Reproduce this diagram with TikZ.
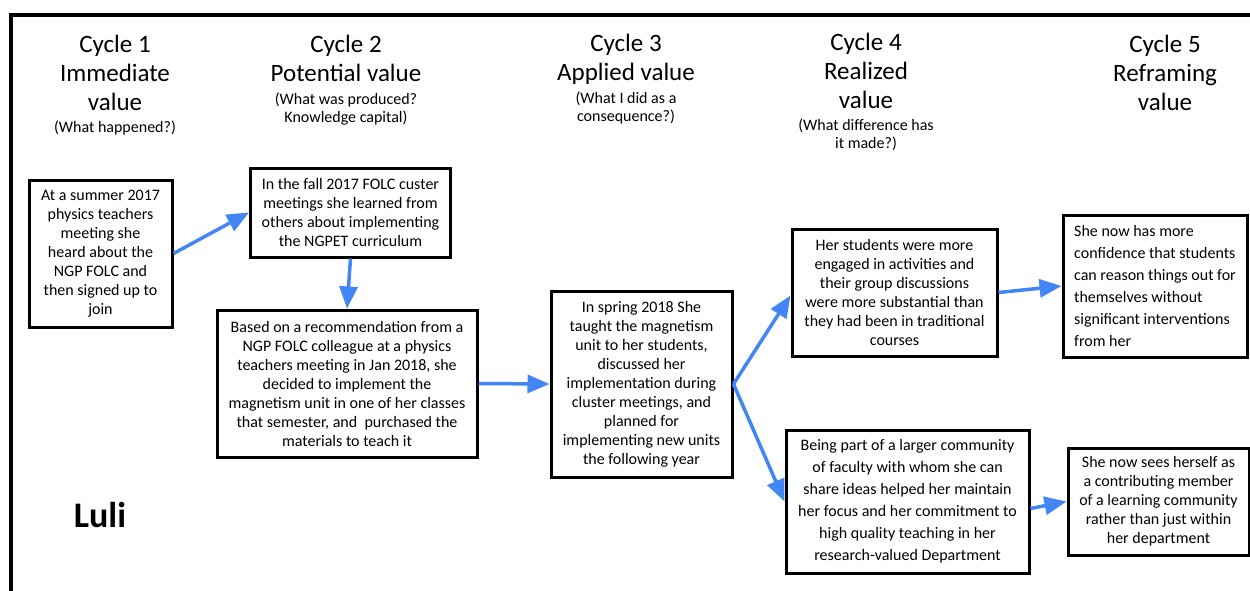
\documentclass[tikz,border=0pt]{standalone}
\usepackage{fontspec}
\setmainfont{Carlito}
\usetikzlibrary{arrows.meta}
\definecolor{arrowblue}{RGB}{66,133,244}
\begin{document}
\begin{tikzpicture}[x=1pt,y=-1pt,
 box/.style={draw=black,line width=3pt,inner sep=0pt,align=center,font=\fontsize{16}{19}\selectfont},
 wide/.style={font=\fontsize{16}{22}\selectfont},
 title/.style={anchor=base,align=center,font=\fontsize{25}{29}\selectfont,inner sep=0pt},
 sub/.style={anchor=base,align=center,font=\fontsize{16}{18}\selectfont,inner sep=0pt},
 flow/.style={draw=arrowblue,line width=3.5pt,-{Triangle[length=22pt,width=18pt]}}]
\useasboundingbox (0,0) rectangle (1250,590);
\clip (0,0) rectangle (1250,590);
\draw[line width=4pt] (11,15) rectangle (1265,610);

% headings (anchor = baseline of last line)
\node[title] (t1) at (115,110) {Cycle 1\\Immediate\\value};
\node[sub] (s1) at (115,132) {(What happened?)};
\node[title] (t2) at (346,81) {Cycle 2\\Potential value};
\node[sub] (s2) at (346,122) {(What was produced?\\Knowledge capital)};
\node[title] (t3) at (626,80) {Cycle 3\\Applied value};
\node[sub] (s3) at (626,121) {(What I did as a\\consequence?)};
\node[title] (t4) at (866,108) {Cycle 4\\Realized\\value};
\node[sub] (s4) at (866,148) {(What difference has\\it made?)};
\node[title] (t5) at (1165,110) {Cycle 5\\Reframing\\value};

% boxes
\node[box,minimum width=143,minimum height=147] (A) at (100.5,253.5)
 {At a summer 2017\\physics teachers\\meeting she\\heard about the\\NGP FOLC and\\then signed up to\\join};
\node[box,minimum width=200,minimum height=89] (B) at (350.5,212.5)
 {In the fall 2017 FOLC custer\\meetings she learned from\\others about implementing\\the NGPET curriculum};
\node[box,minimum width=260,minimum height=147] (C) at (347,383.5)
 {Based on a recommendation from a\\NGP FOLC colleague at a physics\\teachers meeting in Jan 2018, she\\decided to implement the\\magnetism unit in one of her classes\\that semester, and\ \ purchased the\\materials to teach it};
\node[box,minimum width=181,minimum height=186] (D) at (641.5,384)
 {In spring 2018 She\\taught the magnetism\\unit to her students,\\discussed her\\implementation during\\cluster meetings, and\\planned for\\implementing new units\\the following year};
\node[box,minimum width=205,minimum height=127] (E) at (894.5,292.5)
 {Her students were more\\engaged in activities and\\their group discussions\\were more substantial than\\they had been in traditional\\courses};
\node[box,wide,align=left,minimum width=184,minimum height=142] (F) at (1155,286)
 {She now has more\\confidence that students\\can reason things out for\\themselves without\\significant interventions\\from her};
\node[box,wide,minimum width=243,minimum height=143] (G) at (907.5,501.5)
 {Being part of a larger community\\of faculty with whom she can\\share ideas helped her maintain\\her focus and her commitment to\\high quality teaching in her\\research-valued Department};
\node[box,minimum width=181,minimum height=107] (H) at (1158.5,501.5)
 {She now sees herself as\\a contributing member\\of a learning community\\rather than just within\\her department};

\node[font=\bfseries\fontsize{36}{40}\selectfont,inner sep=0pt] (luli) at (100,515) {Luli};

% connectors
\draw[flow] (A.east) -- (B.west);
\draw[flow] (B.south) -- (C.north);
\draw[flow] (C.east) -- (D.west);
\draw[flow] (D.east) -- ([yshift=-3pt]E.west);
\draw[flow] (D.east) -- (G.west);
\draw[flow] (E.east) -- (F.west);
\draw[flow] ([yshift=-7pt]G.east) -- (H.west);
\end{tikzpicture}
\end{document}
